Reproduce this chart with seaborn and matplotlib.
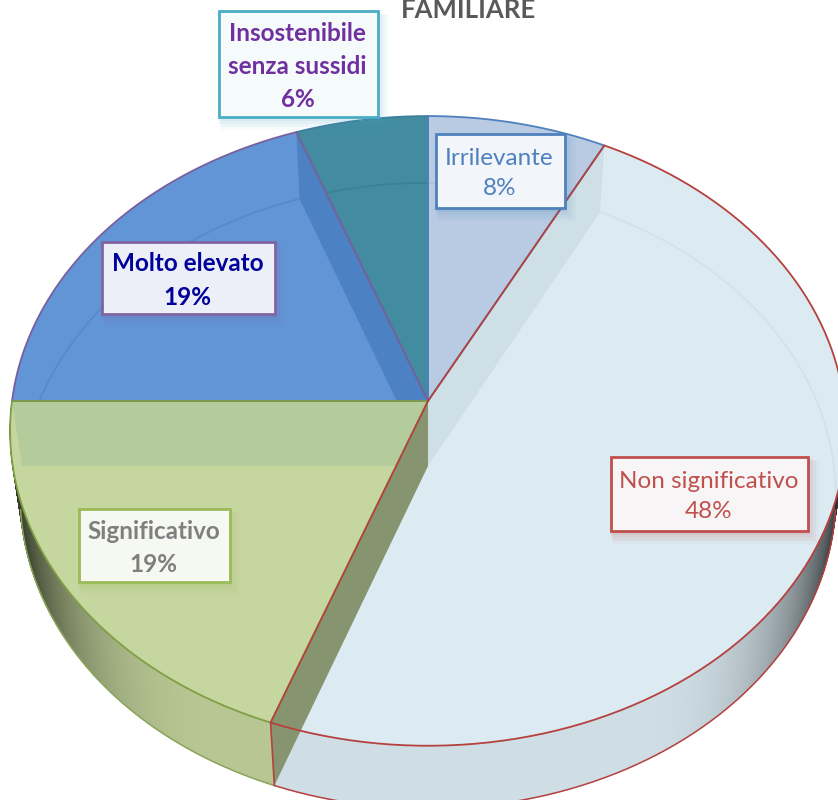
import numpy as np
import matplotlib
matplotlib.use("Agg")
import matplotlib.pyplot as plt
import seaborn as sns
from matplotlib.collections import PolyCollection
from matplotlib.colors import to_rgb
from matplotlib.patches import Polygon, Rectangle
from matplotlib.path import Path

# ---- data ----
categories = ["Irrilevante", "Non significativo", "Significativo", "Molto elevato", "Insostenibile\nsenza sussidi"]
values = [7.6, 48.0, 19.4, 19.4, 5.6]
face_colors = ["#B8CBE2", "#DCEBF2", "#C6D69F", "#6195D6", "#428BA0"]
edge_colors = ["#4F81BD", "#B5413E", "#7F9F45", "#7A5F9E", "#3F7F9E"]
box_edges = ["#4F81BD", "#C0504D", "#9BBB59", "#8064A2", "#4BACC6"]
box_faces = ["#F2F5FA", "#F7F5F6", "#F6F8F2", "#ECEFF7", "#F5FAFB"]
text_colors = ["#4F81BD", "#C0504D", "#7F7F7F", "#00009A", "#7030A0"]
text_bold = [False, False, True, True, True]
boxes = [(436, 134, 565, 208), (611, 457, 808, 531), (79, 509, 230, 582), (102, 242, 275, 314), (219, 11, 378, 117)]
title = "FAMILIARE"

sns.set_theme(style="white")
plt.rcParams["font.family"] = ["Lato", "DejaVu Sans"]
palette = sns.color_palette(face_colors)

fig = plt.figure(figsize=(8.38, 8.0), dpi=100, facecolor="white")
ax = fig.add_axes([0, 0, 1, 1])
wedges, _ = ax.pie(values, colors=palette, startangle=90, counterclock=False, normalize=True)
ax.set_aspect("auto")
ax.set_xlim(0, 838)
ax.set_ylim(800, 0)
ax.axis("off")


# perspective view of the unit disc
def project(x, y, cx=428.0, cy=401.0, b=416.0, a=312.0, k=0.095):
    w = 1 + k * y
    return cx + b * x / w, cy - a * y / w


def top(theta):
    theta = np.atleast_1d(theta)
    return np.column_stack(project(np.cos(theta), np.sin(theta)))


def bottom(theta):
    theta = np.atleast_1d(theta)
    return np.column_stack(project(np.cos(theta), np.sin(theta), cy=466.0, b=406.0, a=310.0))


spans = [(np.radians(w.theta1), np.radians(w.theta2)) for w in wedges]
centre_top = np.array([[428.0, 401.0]])
centre_bot = np.array([[428.0, 466.0]])
i_irr, i_non, i_sig, i_mol, i_ins = 0, 1, 2, 3, 4

# clockwise order from 12 o'clock: slice boundaries in radians
fracs = np.cumsum(values) / np.sum(values)
bound = np.pi / 2 - 2 * np.pi * fracs
b_irr_non, b_non_sig, b_sig_mol, b_mol_ins = bound[:4]

# outer wall
wall_spec = [(b_non_sig, b_irr_non, "#CFDEE5"), (b_sig_mol, b_non_sig, "#B7C692")]
for t1, t2, col in wall_spec:
    base = np.array(to_rgb(col))
    th = np.linspace(max(t1, -1.5 * np.pi), min(t2, 0.0), 260)
    p, q = top(th), bottom(th)
    quads = [[p[i], p[i + 1], q[i + 1], q[i]] for i in range(len(th) - 1)]
    s = np.abs(np.cos(th[:-1]))
    f = 1 - 0.82 * np.clip((s - 0.45) / 0.55, 0, 1) ** 2.5
    cols = [tuple(base * v) for v in f]
    ax.add_collection(PolyCollection(quads, facecolors=cols, edgecolors=cols, linewidths=0.6, zorder=1))

# top faces: the pie's own wedges in perspective
polys = []
for w, (t1, t2) in zip(wedges, spans):
    th = np.linspace(t1, t2, 200)
    poly = np.vstack([centre_top, top(th), centre_top])
    polys.append(poly)
    w._path = Path(poly)
    w.set_linewidth(0)
    w.set_zorder(2)


def inner_wall(t, color, clip=None):
    patch = Polygon(np.vstack([centre_top, top(t), bottom(t), centre_bot]), fc=color, ec="none", zorder=3)
    ax.add_patch(patch)
    if clip is not None:
        patch.set_clip_path(clip)
    return patch


# walls seen through the translucent faces
inner_wall(b_irr_non, "#CEDFE6", wedges[i_non])
inner_wall(b_mol_ins, "#4C82C4", wedges[i_mol])
inner_wall(b_sig_mol, "#B4CB9C", wedges[i_sig])
inner_wall(b_non_sig, "#869470")

# far rim of the base disc, seen through the faces
for idx, col in [(i_non, "#D3E1E8"), (i_mol, "#5589C8"), (i_ins, "#3A8096"), (i_irr, "#AFC2DA")]:
    t1, t2 = spans[idx]
    arc = bottom(np.linspace(t1, t2, 200))
    ln, = ax.plot(arc[:, 0], arc[:, 1], color=col, lw=1.2, zorder=3.5)
    ln.set_clip_path(wedges[idx])

# outlines
for idx in [i_ins, i_irr, i_mol, i_sig, i_non]:
    ax.plot(polys[idx][:, 0], polys[idx][:, 1], color=edge_colors[idx], lw=1.3, zorder=4)
for t1, t2, col in [(b_non_sig, np.radians(-8.0), edge_colors[i_non]), (np.radians(-172.0), b_non_sig, "#8AA65A")]:
    arc = bottom(np.linspace(t1, t2, 200))
    ax.plot(arc[:, 0], arc[:, 1], color=col, lw=1.1, zorder=4)
edge = np.vstack([top(b_non_sig), bottom(b_non_sig)])
ax.plot(edge[:, 0], edge[:, 1], color=edge_colors[i_non], lw=1.2, zorder=4)
ax.plot([361, 361], [117, 120], color="#A6A6A6", lw=1, zorder=4.5)

# labels
for cat, v, (x0, y0, x1, y1), ec, fc, tc, bold in zip(categories, values, boxes, box_edges, box_faces, text_colors, text_bold):
    for off, al in [(9, 0.04), (7, 0.05), (5, 0.07), (3, 0.09)]:
        ax.add_patch(Rectangle((x0 - 2 + off * 0.4, y0 + off * 0.4), x1 - x0 + off, y1 - y0 + off,
                               fc=ec, ec="none", alpha=al, zorder=5))
    ax.add_patch(Rectangle((x0, y0), x1 - x0, y1 - y0, fc=fc, ec=ec, lw=2.0, zorder=6))
    ax.text((x0 + x1) / 2 - 1, (y0 + y1) / 2 + 2.5, f"{cat}\n{round(v)}%", ha="center", va="center", color=tc,
            fontsize=17.5, fontweight="bold" if bold else "normal", linespacing=1.54, zorder=7)

ax.text(468, 18, title, ha="center", va="baseline", color="#595959", fontsize=18.5, fontweight="bold", zorder=7)

fig.savefig("out.png", dpi=100, facecolor="white")
